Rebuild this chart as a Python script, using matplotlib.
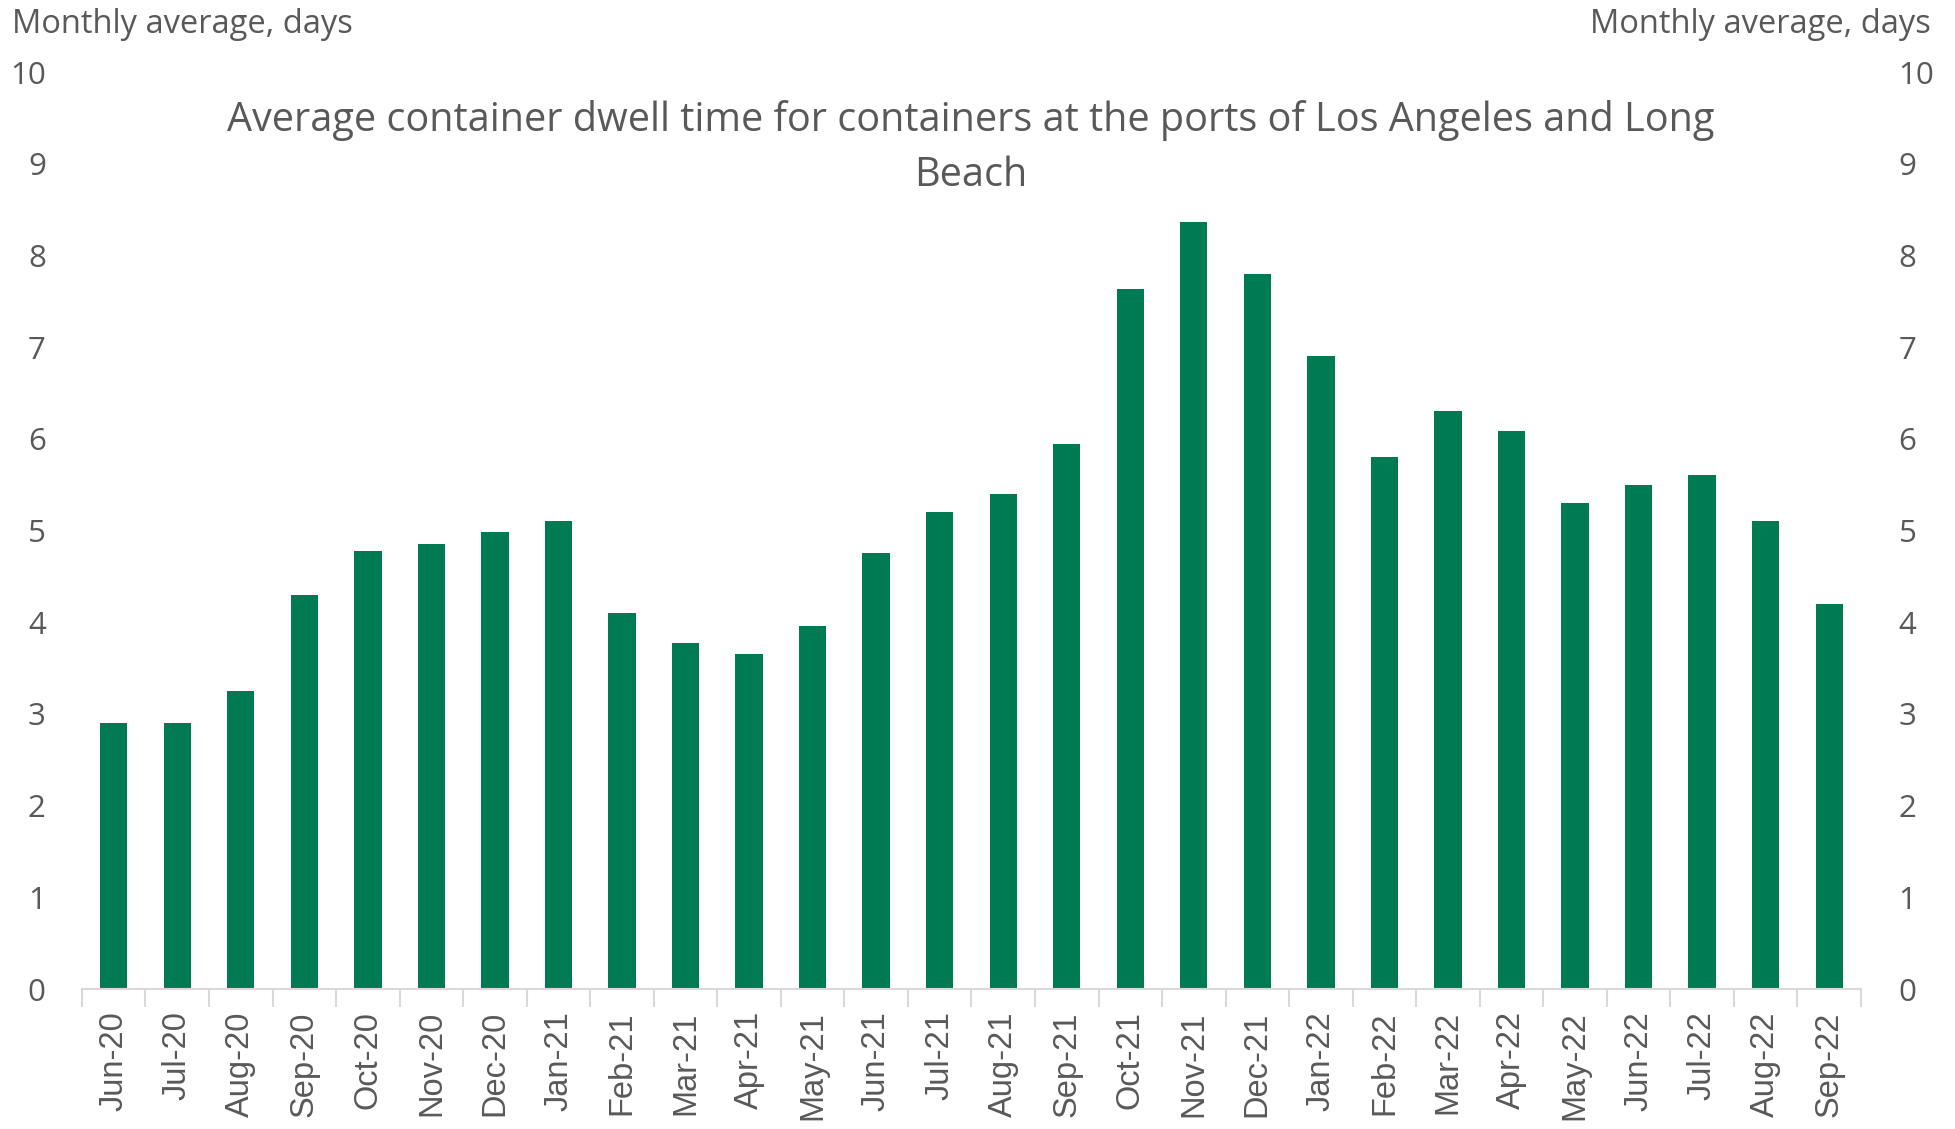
import matplotlib
matplotlib.use("Agg")
import matplotlib.pyplot as plt
import numpy as np

months = ["Jun-20", "Jul-20", "Aug-20", "Sep-20", "Oct-20", "Nov-20", "Dec-20",
          "Jan-21", "Feb-21", "Mar-21", "Apr-21", "May-21", "Jun-21", "Jul-21",
          "Aug-21", "Sep-21", "Oct-21", "Nov-21", "Dec-21", "Jan-22", "Feb-22",
          "Mar-22", "Apr-22", "May-22", "Jun-22", "Jul-22", "Aug-22", "Sep-22"]
dwell_days = [2.90, 2.90, 3.25, 4.30, 4.78, 4.85, 4.99,
              5.10, 4.10, 3.77, 3.65, 3.96, 4.76, 5.20,
              5.40, 5.94, 7.64, 8.37, 7.80, 6.90, 5.80,
              6.30, 6.09, 5.30, 5.50, 5.61, 5.10, 4.20]
y_ticks = [0, 1, 2, 3, 4, 5, 6, 7, 8, 9, 10]

title = "Average container dwell time for containers at the ports of Los Angeles and Long\nBeach"
axis_label = "Monthly average, days"

TEXT = "#595959"
BAR = "#007A53"
AXIS = "#D9D9D9"

fig = plt.figure(figsize=(19.56, 11.29), dpi=100)
ax = fig.add_axes([0.0419, 0.124, 0.9095, 0.812])

x = np.arange(len(months))
ax.bar(x, dwell_days, width=0.43, color=BAR, zorder=2)

ax.set_xlim(-0.5, len(months) - 0.5)
ax.set_ylim(0, 10)
ax.set_yticks(y_ticks)
ax.set_xticks(x)
ax.set_xticklabels(months, rotation=90, family="Liberation Sans", fontsize=23.5, color=TEXT)
ax.set_xticks(np.arange(-0.5, len(months), 1.0), minor=True)
ax.tick_params(axis="x", which="major", length=0, pad=16)
ax.tick_params(axis="x", which="minor", length=13, width=1.5, color=AXIS)

ax.tick_params(axis="y", length=0, labelsize=22.5, labelcolor=TEXT, pad=26,
               left=False, right=False, labelleft=True, labelright=False)
for lab in ax.get_yticklabels():
    lab.set_family("Open Sans")

for s in ["top", "left", "right"]:
    ax.spines[s].set_visible(False)
ax.spines["bottom"].set_color(AXIS)
ax.spines["bottom"].set_linewidth(1.5)

ax2 = ax.twinx()
ax2.set_ylim(0, 10)
ax2.set_yticks(y_ticks)
ax2.tick_params(axis="y", length=0, labelsize=22.5, labelcolor=TEXT, pad=27)
for lab in ax2.get_yticklabels():
    lab.set_family("Open Sans")
for s in ax2.spines.values():
    s.set_visible(False)

fig.text(0.006, 0.978, axis_label, ha="left", va="center", fontsize=23.5,
         family="Open Sans", color=TEXT)
fig.text(0.987, 0.978, axis_label, ha="right", va="center", fontsize=23.5,
         family="Open Sans", color=TEXT)

fig.text(0.4965, 0.869, title, ha="center", va="center", fontsize=28.5,
         family="Open Sans", color=TEXT, linespacing=1.5)

fig.savefig("out.png", dpi=100)
